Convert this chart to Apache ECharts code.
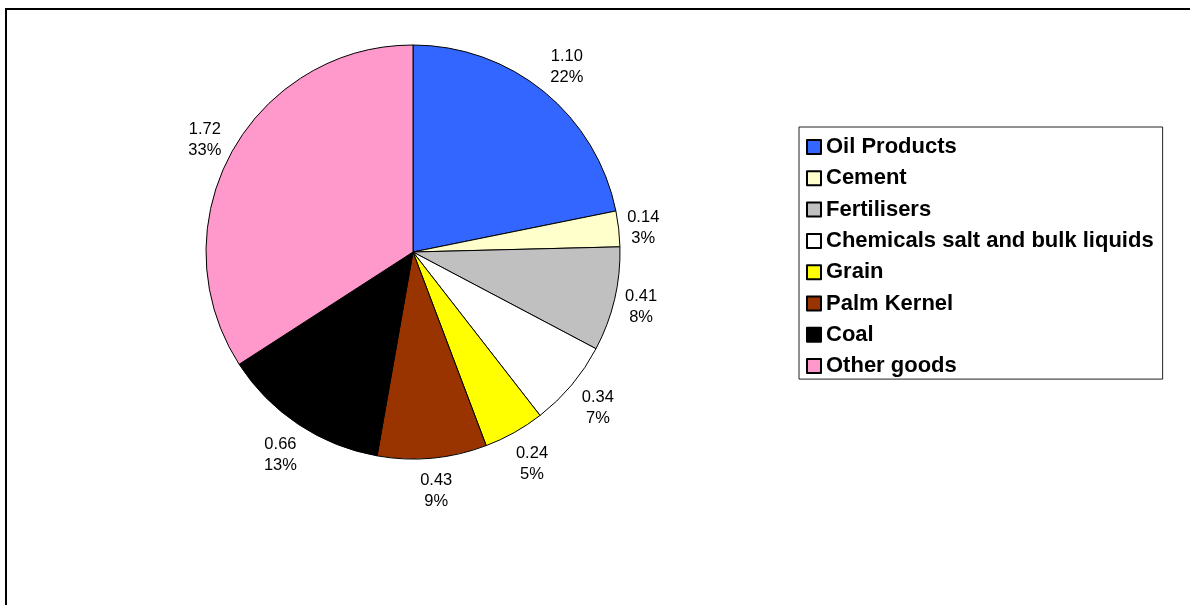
<!DOCTYPE html>
<html>
<head>
<meta charset="utf-8">
<script src="https://cdn.jsdelivr.net/npm/echarts@6/dist/echarts.min.js"></script>
<style>
  html, body { margin: 0; padding: 0; background: #fff; }
  #chart { width: 1190px; height: 605px; }
</style>
</head>
<body>
<div id="chart"></div>
<script>
// Data
const categories = ['Oil Products', 'Cement', 'Fertilisers', 'Chemicals salt and bulk liquids', 'Grain', 'Palm Kernel', 'Coal', 'Other goods'];
const values = [1.10, 0.14, 0.41, 0.34, 0.24, 0.43, 0.66, 1.72];
const pctLabels = ['22%', '3%', '8%', '7%', '5%', '9%', '13%', '33%'];
const colors = ['#3366FF', '#FFFFCC', '#C0C0C0', '#FFFFFF', '#FFFF00', '#993300', '#000000', '#FF99CC'];

const FONT = '"Liberation Sans", Arial, sans-serif';
const PIE_CENTER = [413, 252];
const PIE_RADIUS = 207;

const pieData = categories.map((name, i) => ({
  name: name,
  value: values[i],
  pct: pctLabels[i],
  itemStyle: { color: colors[i] }
}));

// Place each label just outside the pie edge, like Excel's "outside end" labels:
// direction is taken from the library's own inside-label placement (mid-angle).
function placeLabel(params) {
  const r = params.labelRect;
  const cx = r.x + r.width / 2;
  const cy = r.y + r.height / 2;
  const dx = cx - PIE_CENTER[0];
  const dy = cy - PIE_CENTER[1];
  const d = Math.hypot(dx, dy) || 1;
  const ux = dx / d, uy = dy / d;
  const dist = PIE_RADIUS + 5 + (r.width / 2) * Math.abs(ux) + (r.height / 2 + 3.5) * Math.abs(uy);
  return {
    x: PIE_CENTER[0] + ux * dist + 1,
    y: PIE_CENTER[1] + uy * dist + 2,
    align: 'center',
    verticalAlign: 'middle'
  };
}

const chart = echarts.init(document.getElementById('chart'), null, { renderer: 'canvas' });
chart.setOption({
  backgroundColor: '#ffffff',
  animation: false,
  graphic: [{
    type: 'rect',
    shape: { x: 6, y: 9, width: 1400, height: 800 },
    style: { fill: 'none', stroke: '#000', lineWidth: 2 },
    silent: true,
    z: 100
  }],
  legend: {
    orient: 'vertical',
    left: 799,
    top: 127,
    padding: [9, 9, 2, 7],
    backgroundColor: '#fff',
    borderColor: '#222',
    borderWidth: 1,
    borderRadius: 0,
    itemWidth: 14,
    itemHeight: 14,
    itemGap: 9.3,
    icon: 'rect',
    selectedMode: false,
    data: categories,
    textStyle: {
      fontFamily: FONT,
      fontSize: 22,
      fontWeight: 'bold',
      color: '#000',
      lineHeight: 22
    }
  },
  series: [
    {
      name: 'Cargo',
      type: 'pie',
      center: PIE_CENTER,
      radius: [0, PIE_RADIUS],
      startAngle: 90,
      clockwise: true,
      silent: true,
      data: pieData,
      itemStyle: { borderColor: '#000', borderWidth: 1 },
      label: {
        show: true,
        position: 'inside',
        fontFamily: FONT,
        fontSize: 16.5,
        lineHeight: 21,
        color: '#000',
        align: 'center',
        formatter: p => p.value.toFixed(2) + '\n' + p.data.pct
      },
      labelLine: { show: false },
      labelLayout: placeLabel,
      emphasis: { disabled: true }
    }
  ]
});
</script>
</body>
</html>
